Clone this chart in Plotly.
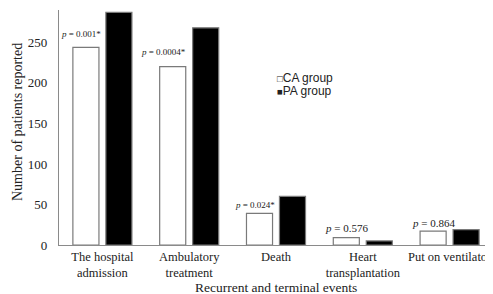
import plotly.graph_objects as go

categories = ["The hospital<br>admission", "Ambulatory<br>treatment", "Death",
              "Heart<br>transplantation", "Put on ventilator"]
ca_values = [244, 220, 39, 9, 17]
pa_values = [287, 268, 60, 5, 19]
p_labels = ["<i>p</i> = 0.001*", "<i>p</i> = 0.0004*", "<i>p</i> = 0.024*",
            "<i>p</i> = 0.576", "<i>p</i> = 0.864"]
p_sizes = [9, 9, 9, 11, 11]
p_xshift = [-4.5, -9, -5, 0, 0]
p_yshift = [13.5, 15, 8, 10, 8]
y_ticks = [0, 50, 100, 150, 200, 250]
series_names = ["CA group", "PA group"]
x_title = "Recurrent and terminal events"
y_title = "Number of patients reported"

serif = "Liberation Serif, Times New Roman, serif"
sans = "Liberation Sans, Arial, sans-serif"

fig = go.Figure()
fig.add_trace(go.Bar(x=categories, y=ca_values, name=series_names[0], showlegend=False,
                     marker=dict(color="white", line=dict(color="#7a7a7a", width=1.2))))
fig.add_trace(go.Bar(x=categories, y=pa_values, name=series_names[1], showlegend=False,
                     marker=dict(color="black", line=dict(color="#7a7a7a", width=1.2))))

for i, (cat, v) in enumerate(zip(categories, ca_values)):
    fig.add_annotation(x=i, y=v, xref="x", yref="y", text=p_labels[i],
                       showarrow=False, xanchor="center", yanchor="middle",
                       xshift=-16.5 + p_xshift[i], yshift=p_yshift[i],
                       font=dict(family=serif, size=p_sizes[i], color="#222"))

# legend drawn as text entries
legend_syms = ["\u25a1", "\u25a0"]
for k, (sym, name) in enumerate(zip(legend_syms, series_names)):
    fig.add_annotation(x=0.498, y=0.71 - k * 0.054, xref="paper", yref="paper",
                       xanchor="left", yanchor="middle", showarrow=False,
                       text=f"<span style='font-size:9.5px'>{sym}</span>{name}",
                       font=dict(family=sans, size=12, color="#222"))

# axis titles
fig.add_annotation(x=0.501, y=-0.179, xref="paper", yref="paper",
                   xanchor="center", yanchor="middle", showarrow=False, borderpad=0,
                   text=x_title, font=dict(family=serif, size=13.5, color="#222"))
fig.add_annotation(x=-0.097, y=0.523, xref="paper", yref="paper",
                   xanchor="center", yanchor="middle", showarrow=False, textangle=-90,
                   text=y_title, font=dict(family=serif, size=14, color="#222"))

# page body has an 8px default margin, so the figure is sized/offset to compensate
fig.update_layout(
    width=485, height=286,
    margin=dict(l=51, r=0, t=2, b=49),
    plot_bgcolor="white", paper_bgcolor="white",
    barmode="group", bargap=0.24, bargroupgap=0.21,
    showlegend=False,
    xaxis=dict(showline=True, linecolor="#8a8a8a", linewidth=1.2, ticks="",
               automargin=False, ticklabelstandoff=0,
               tickfont=dict(family=serif, size=12.5, color="#222"),
               range=[-0.5, 4.5]),
    yaxis=dict(showline=True, linecolor="#8a8a8a", linewidth=1.2, ticks="",
               automargin=False, ticklabelstandoff=8,
               showgrid=False, zeroline=False, range=[0, 290],
               tickvals=y_ticks,
               tickfont=dict(family=serif, size=13, color="#222")),
)

fig.write_html("out.html")
